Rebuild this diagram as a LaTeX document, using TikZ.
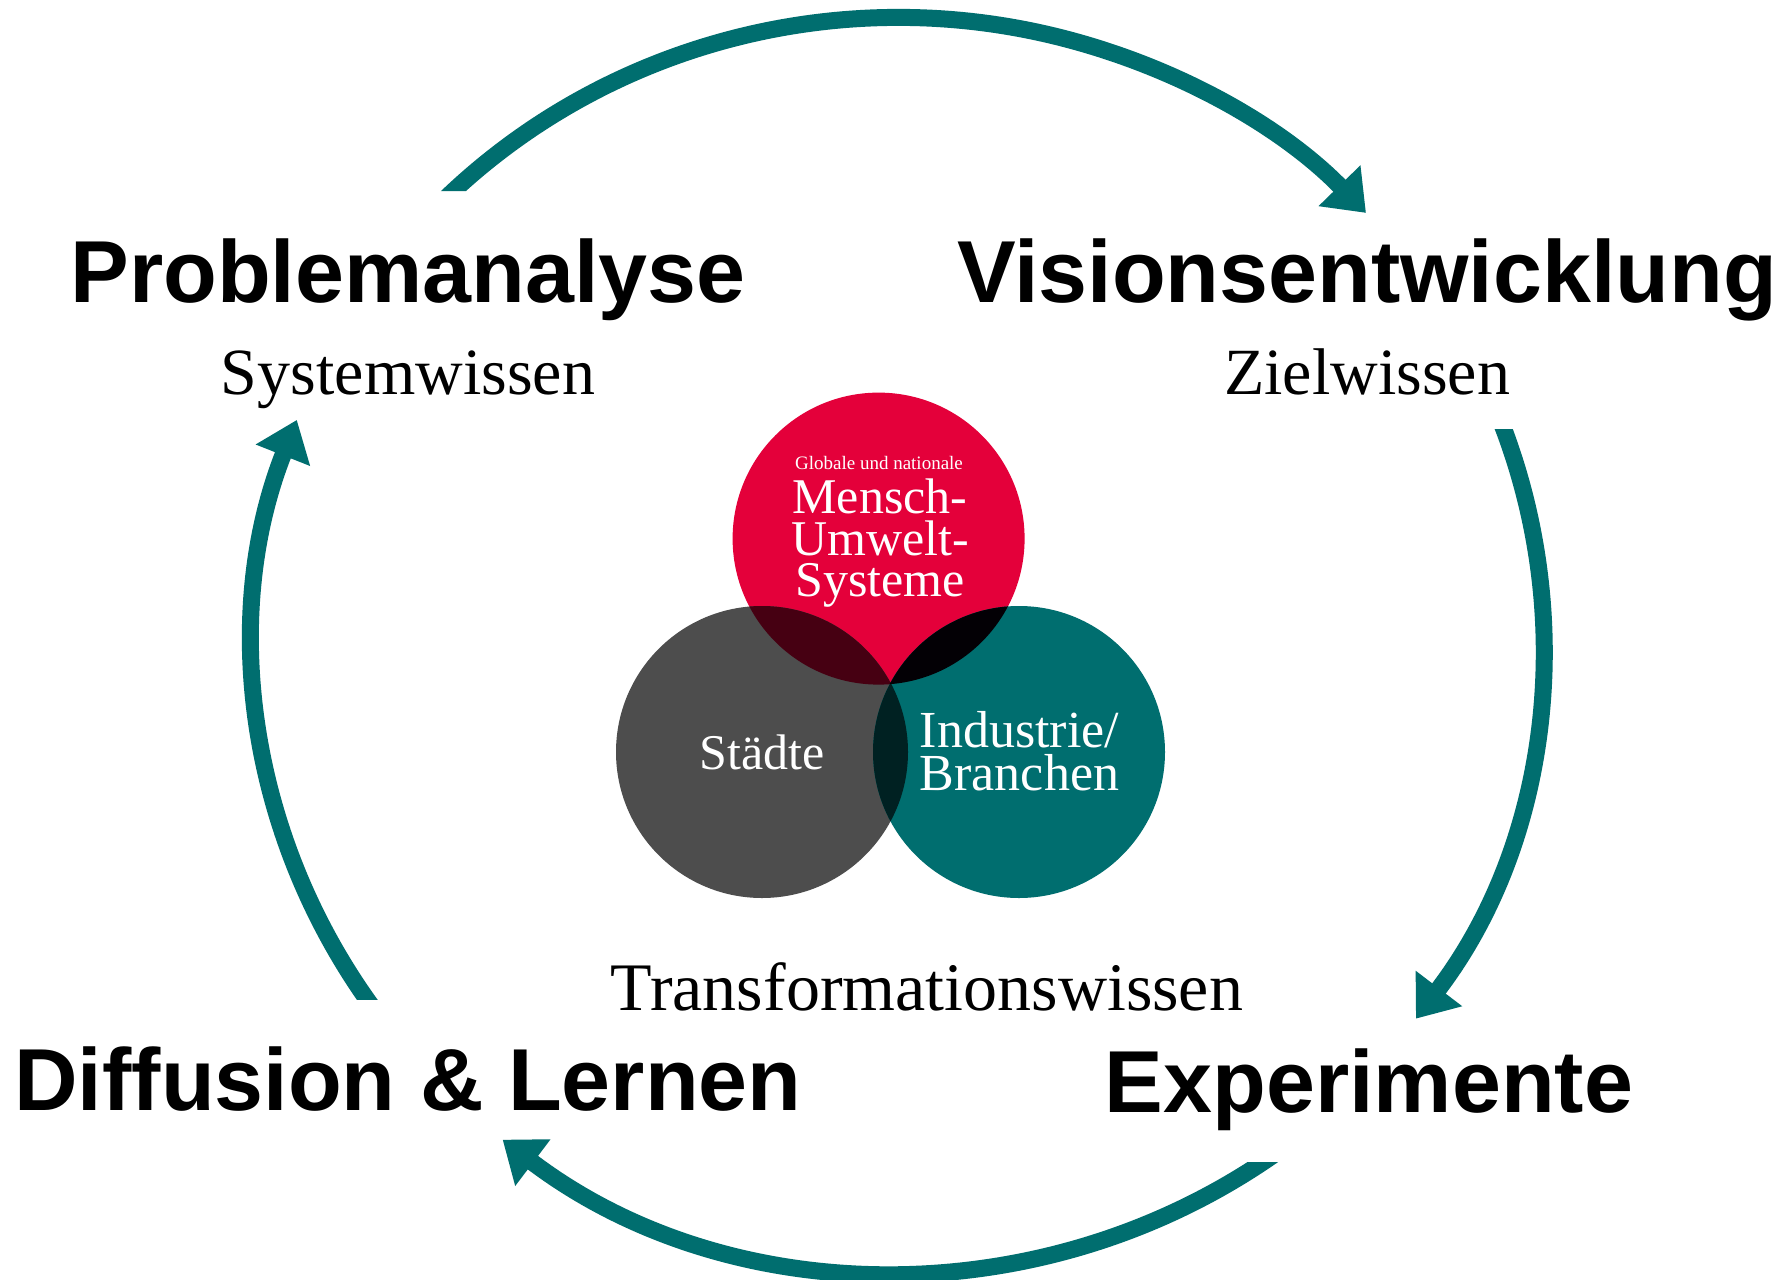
\documentclass[tikz,border=0pt]{standalone}
\usepackage{fontspec}
\setmainfont{Liberation Serif}
\newfontfamily\labelsans{Liberation Sans}
\usetikzlibrary{arrows.meta}
\definecolor{tealc}{HTML}{006E6F}
\definecolor{redc}{HTML}{E4003A}
\definecolor{greyc}{HTML}{4D4D4D}
\definecolor{redgrey}{HTML}{460012}
\definecolor{redteal}{HTML}{030005}
\definecolor{greyteal}{HTML}{002122}
\begin{document}
\begin{tikzpicture}[x=1pt,y=-1pt,
  cyc/.style={line width=17pt, draw=tealc, -{Triangle[length=38pt,width=56pt]}},
  phase/.style={font=\labelsans\bfseries\fontsize{88}{90}\selectfont, anchor=base, inner sep=0pt},
  know/.style={font=\fontsize{66}{70}\selectfont, anchor=base, inner sep=0pt},
  ctext/.style={font=\fontsize{50}{41.5}\selectfont, text=white, inner sep=0pt, align=center},
  csmall/.style={font=\fontsize{19}{20}\selectfont, text=white, anchor=base, inner sep=0pt,
    text height=13pt, text depth=0pt},
  venn/.style={circle, minimum size=292pt, inner sep=0pt, draw=none}]
\useasboundingbox (0,0) rectangle (1789,1280);
\fill[white] (0,0) rectangle (1789,1280);

% Venn circles
\node[venn, fill=redc] (red) at (878.6,538.6) {};
\node[venn, fill=greyc] (grey) at (762,752) {};
\node[venn, fill=tealc] (teal) at (1019,752) {};
\begin{scope}
  \clip (red.center) circle[radius=146];
  \fill[redgrey] (grey.center) circle[radius=146];
  \fill[redteal] (teal.center) circle[radius=146];
\end{scope}
\begin{scope}
  \clip (grey.center) circle[radius=146];
  \fill[greyteal] (teal.center) circle[radius=146];
\end{scope}
\begin{scope}
  \clip (red.center) circle[radius=146];
  \clip (grey.center) circle[radius=146];
  \fill[black] (teal.center) circle[radius=146];
\end{scope}

% texts inside circles
\node[csmall] (glob) at (879,469) {Globale und nationale};
\node[ctext, anchor=north] (mus) at (880,479) {Mensch-\\Umwelt-\\Systeme};
\node[ctext, anchor=base] (staedte) at (762,769) {Städte};
\node[ctext, anchor=north, font=\fontsize{52}{43}\selectfont] (ind) at (1019.5,711) {Industrie/\\Branchen};

% phase labels
\node[phase] (prob) at (408,302) {Problemanalyse};
\node[know] (sys) at (408,394) {Systemwissen};
\node[phase] (vis) at (1367,302) {Visionsentwicklung};
\node[know] (ziel) at (1367,394) {Zielwissen};
\node[know, font=\fontsize{68}{70}\selectfont] (trans) at (927,1010) {Transformationswissen};
\node[phase] (diff) at (408,1110) {Diffusion \& Lernen};
\node[phase] (exp) at (1369,1112) {Experimente};

% cycle arrows
\begin{scope}
  \clip (0,0) -- (1789,0) -- (1789,400) -- (700,400) -- (700,191) -- (0,191) -- cycle;
  \draw[cyc, shift={(898.5,644.7)}] (-137:644.5 and 627.3)
    arc[start angle=-137, end angle=-43.5, x radius=644.5, y radius=627.3];
\end{scope}
\begin{scope}
  \clip (1200,429) rectangle (1789,1280);
  \draw[cyc, shift={(898.5,644.7)}] (-23:644.5 and 627.3)
    arc[start angle=-23, end angle=36.6, x radius=644.5, y radius=627.3];
\end{scope}
\begin{scope}
  \clip (0,1280) -- (0,1100) -- (900,1100) -- (900,1162) -- (1789,1162) -- (1789,1280) -- cycle;
  \draw[cyc, shift={(898.5,644.7)}] (52:644.5 and 627.3)
    arc[start angle=52, end angle=127.9, x radius=644.5, y radius=627.3];
\end{scope}
\begin{scope}
  \clip (0,0) rectangle (600,999);
  \draw[cyc, shift={(898.5,644.7)}] (142.5:644.5 and 627.3)
    arc[start angle=142.5, end angle=201.0, x radius=644.5, y radius=627.3];
\end{scope}
\end{tikzpicture}
\end{document}
